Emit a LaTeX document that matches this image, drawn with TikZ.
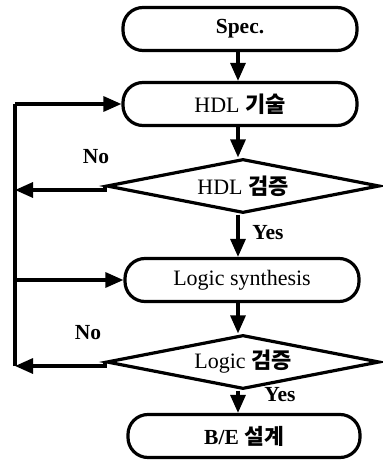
\documentclass[tikz,border=0pt]{standalone}
\usepackage{fontspec}
\setmainfont{Liberation Serif}
\newfontfamily\kr{Noto Sans CJK KR}
\usetikzlibrary{shapes.geometric,arrows.meta}
\begin{document}
\begin{tikzpicture}[x=1pt,y=-1pt,
  font=\fontsize{22}{26}\selectfont,
  line width=3.2pt,
  proc/.style={draw, rounded corners=20pt, minimum width=234pt, minimum height=43pt, inner sep=0pt},
  dec/.style={draw, diamond, aspect=5.2, minimum width=273pt, minimum height=54pt, inner sep=0pt},
  flow/.style={-{Triangle[length=18pt,width=15pt]}},
  lbl/.style={inner sep=0pt, font=\fontsize{21.5}{26}\selectfont\bfseries}]
\useasboundingbox (0,0) rectangle (382,462);
\node[proc, font=\fontsize{21.5}{26}\selectfont\bfseries] (spec) at (240,29) {Spec.};
\node[proc] (hdl) at (240,104) {HDL {\kr\bfseries 기술}};
\node[dec] (hv) at (243,186) {HDL {\kr\bfseries 검증}};
\node[proc] (ls) at (242,280) {Logic synthesis};
\node[dec] (lv) at (243,362) {Logic {\kr\bfseries 검증}};
\node[proc, minimum width=232pt, font=\fontsize{21.5}{26}\selectfont\bfseries] (be) at (244,436) {B/E {\kr 설계}};
\coordinate (top) at (15,104);
\coordinate (mid) at (15,280);
\coordinate (b1) at (15,190);
\coordinate (b2) at (15,366);
\draw[flow] (spec.south -| 238,0) -- (hdl.north -| 238,0);
\draw[flow] (hdl.south -| 238,0) -- (hv.north -| 238,0);
\draw[flow] (hv.south -| 238,0) -- (ls.north -| 238,0);
\draw[flow] (ls.south -| 238,0) -- (lv.north -| 238,0);
\draw[flow] (lv.south -| 238,0) -- (be.north -| 238,0);
\draw[flow] (hv.west) -- (b1 -| hv.west) -- (b1);
\draw[flow] (lv.west) -- (b2 -| lv.west) -- (b2);
\draw (b2) -- (top);
\draw[flow] (top) -- (hdl.west);
\draw[flow] (mid) -- (ls.west);
\node[lbl] (no1) at (96,157) {No};
\node[lbl] (no2) at (88,333) {No};
\node[lbl] (yes1) at (268,233) {Yes};
\node[lbl] (yes2) at (280,395) {Yes};
\end{tikzpicture}
\end{document}
